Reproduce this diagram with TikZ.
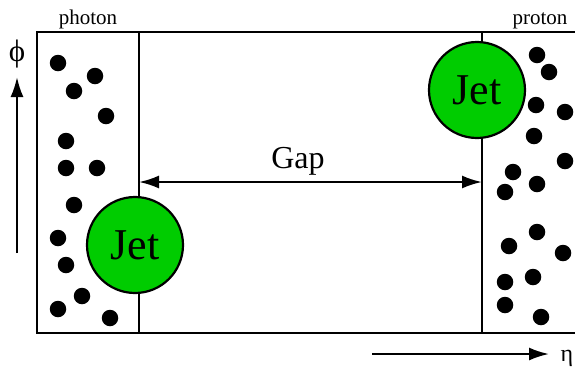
\documentclass[tikz,border=0pt]{standalone}
\usepackage{fontspec}
\setmainfont{Liberation Serif}
\usetikzlibrary{arrows.meta}
\begin{document}
\begin{tikzpicture}[x=1pt,y=-1pt,
  frame/.style={line width=2.2pt},
  dot/.style={circle,fill=black,inner sep=0pt,minimum size=16.5pt},
  jet/.style={circle,draw=black,line width=2.2pt,fill=jetgreen,minimum size=96pt,inner sep=0pt,font=\fontsize{44}{44}\selectfont},
  axis/.style={line width=2.2pt,-{Latex[length=20pt,width=13pt]}},
  gaparrow/.style={line width=2.2pt,{Latex[length=20pt,width=13pt]}-{Latex[length=20pt,width=13pt]}},
  small/.style={font=\fontsize{21}{21}\selectfont,inner sep=0pt}]
\definecolor{jetgreen}{RGB}{0,204,0}
\useasboundingbox (0,0) rectangle (575,368);
\fill[white] (0,0) rectangle (575,368);
% frame
\coordinate (tl) at (37,32);
\coordinate (bl) at (37,333);
\coordinate (tr) at (580,32);
\coordinate (br) at (580,333);
\coordinate (lt) at (139,32);
\coordinate (lb) at (139,333);
\coordinate (rt) at (482,32);
\coordinate (rb) at (482,333);
\draw[frame] (tr) -- (tl) -- (bl) -- (br);
\draw[frame] (lt) -- (lb);
\draw[frame] (rt) -- (rb);
% gap arrow
\coordinate (gl) at (139,182);
\coordinate (gr) at (482,182);
\draw[gaparrow] (gl) -- (gr);
\node[font=\fontsize{32}{32}\selectfont,inner sep=0pt,anchor=base] (gap) at (298,168) {Gap};
% jets
\node[jet] (jetL) at (135,245) {Jet};
\node[jet] (jetR) at (477,90) {Jet};
% left dots
\foreach \n/\x/\y in {1/58/63,2/95/76,3/74/91,4/106/116,5/66/141,6/66/168,7/97/168,8/74/205,9/58/238,10/66/265,11/82/296,12/58/309,13/110/318}
  \node[dot] (l\n) at (\x,\y) {};
% right dots
\foreach \n/\x/\y in {1/537/55,2/549/72,3/536/105,4/565/112,5/534/136,6/565/161,7/513/172,8/505/192,9/537/184,10/537/232,11/509/246,12/563/253,13/533/277,14/505/282,15/505/305,16/541/317}
  \node[dot] (r\n) at (\x,\y) {};
% labels
\node[small,anchor=base] (photon) at (88,24) {photon};
\node[small,anchor=base] (proton) at (540,24) {proton};
% phi axis
\coordinate (pa) at (17,253);
\coordinate (pb) at (17,77);
\draw[axis] (pa) -- (pb);
\node[font=\fontsize{31}{31}\selectfont,inner sep=0pt] (phi) at (17,54) {ϕ};
% eta axis
\coordinate (ea) at (372,354);
\coordinate (eb) at (549,354);
\draw[axis] (ea) -- (eb);
\node[font=\fontsize{24}{24}\selectfont,inner sep=0pt,anchor=base] (eta) at (567,361) {η};
\end{tikzpicture}
\end{document}
